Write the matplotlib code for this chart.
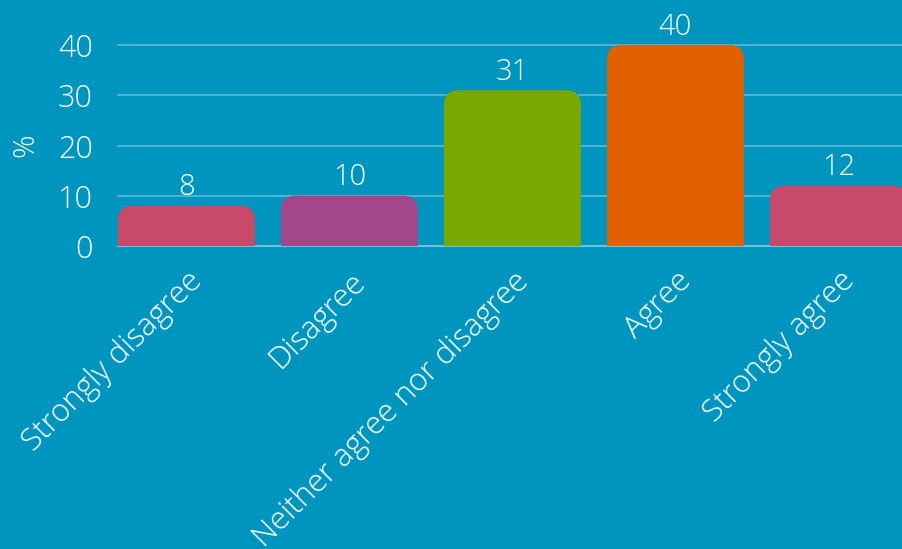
import matplotlib.pyplot as plt
from matplotlib.patches import FancyBboxPatch

# Survey responses (percent)
categories = ['Strongly disagree', 'Disagree', 'Neither agree nor disagree', 'Agree', 'Strongly agree']
values = [8, 10, 31, 40, 12]
colors = ['#C9496A', '#A3468A', '#7AA800', '#E16100', '#C9496A']

bg = '#0095BE'
plt.rcParams['font.family'] = ['Open Sans', 'DejaVu Sans']
plt.rcParams['font.weight'] = 'light'

fig = plt.figure(figsize=(9.02, 5.49), dpi=100, facecolor=bg)
ax = fig.add_axes([118 / 902, 1 - 246 / 549, 789 / 902, 201 / 549])
ax.set_facecolor(bg)

ax.set_xlim(-0.42, 4.42)
ax.set_ylim(0, 40)

# gridlines
for y in [0, 10, 20, 30, 40]:
    ax.axhline(y, color='#5DB8D8' if y else '#8CCDE3', lw=1.2, zorder=1, clip_on=False)

# bars with rounded top corners
width = 0.84
px_x = 1 / 163.0      # x data units per pixel
px_y = 10 / 50.25     # y data units per pixel
aspect = px_y / px_x
for i, (v, c) in enumerate(zip(values, colors)):
    p = FancyBboxPatch((i - width / 2, -5), width, v + 5,
                       boxstyle='round,pad=0,rounding_size=%f' % (15 * px_x),
                       mutation_aspect=aspect, facecolor=c, edgecolor='none', zorder=2)
    ax.add_patch(p)
    ax.annotate(str(v), (i, v), xytext=(0, 2.5), textcoords='offset points',
                ha='center', va='bottom', color='white', fontsize=21,
                annotation_clip=False)

for s in ax.spines.values():
    s.set_visible(False)

ax.set_yticks([0, 10, 20, 30, 40])
ax.set_xticks(range(len(categories)))
# the longest label runs off the bottom edge, as in the original
ax.set_xticklabels(categories, rotation=45, ha='right', rotation_mode='anchor',
                   fontsize=22.5, color='white')
ax.tick_params(axis='x', length=0, pad=14)
ax.tick_params(axis='y', length=0, pad=18, labelsize=22, labelcolor='white')
ax.set_ylabel('%', color='white', fontsize=21, fontweight='light', labelpad=13)

fig.savefig('out.png', dpi=100, facecolor=bg)
